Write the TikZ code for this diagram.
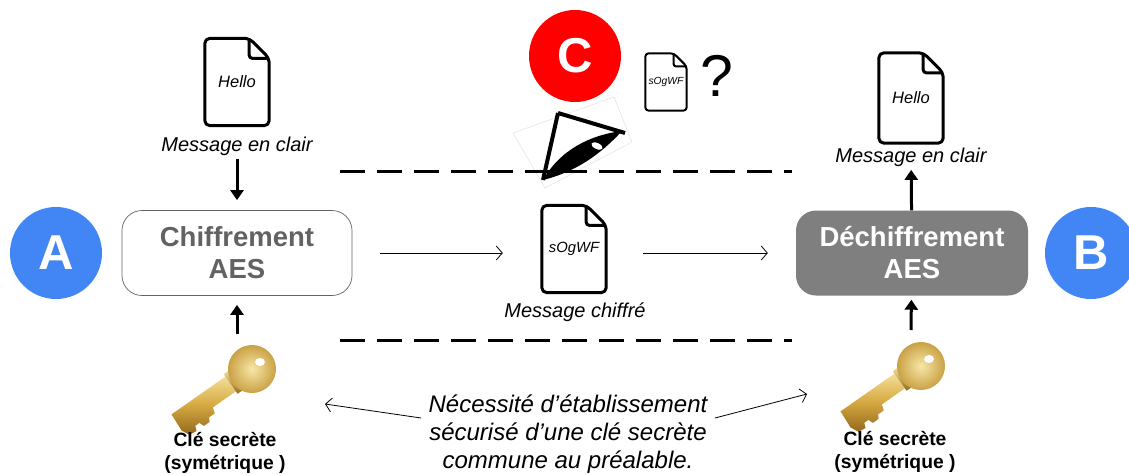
\documentclass[tikz,border=0pt]{standalone}
\usepackage{fontspec}
\setmainfont{Liberation Sans}
\usetikzlibrary{positioning,calc,arrows.meta}
\definecolor{alicebleu}{HTML}{4285F4}
\definecolor{espionrouge}{HTML}{FF0000}
\definecolor{boitegris}{HTML}{7F7F7F}
\definecolor{textegris}{HTML}{626262}
\definecolor{orclair}{HTML}{F7E7A6}
\definecolor{ormoyen}{HTML}{D8AC45}
\definecolor{orfonce}{HTML}{94691A}

% contour of a document icon around a node: #1 node, #2 fold, #3 line width
\newcommand{\fichier}[3]{%
  \draw[line width=#3, rounded corners=#3*1.7, line join=round]
    ([xshift=-#2]#1.north east) -- (#1.north west) -- (#1.south west)
    -- (#1.south east) -- ([yshift=-#2]#1.north east) -- cycle;
  \draw[line width=#3, rounded corners=#3, line join=round]
    ([xshift=-#2]#1.north east) -- ([xshift=-#2,yshift=-#2]#1.north east)
    -- ([yshift=-#2]#1.north east);
}

% golden key, head centred on #1
\newcommand{\cle}[1]{%
  \begin{scope}[shift={#1}, rotate=35]
    \shade[top color=orclair, bottom color=orfonce, middle color=ormoyen]
      (-92,-9) -- (-18,-9) -- (-18,9) -- (-54,9) -- (-56,15) -- (-63,15)
      -- (-65,19) -- (-72,19) -- (-74,14) -- (-79,14) -- (-81,19)
      -- (-89,18) -- (-93,10) -- cycle;
    \shade[top color=orclair, bottom color=orfonce] (-26,-12) rectangle (-17,12);
    \shade[inner color=orclair, outer color=ormoyen!70!orfonce] (0,0) circle (24pt);
  \end{scope}
  \fill[white] ($#1+(8,-7)$) ellipse (5pt and 4pt);
}

\begin{document}
\begin{tikzpicture}[x=1pt, y=-1pt,
  boite/.style={rectangle, rounded corners=20pt, minimum width=230pt,
    minimum height=85pt, align=center,
    font=\fontsize{27.5}{32}\selectfont\bfseries},
  personne/.style={circle, fill=#1, minimum size=92pt, inner sep=0,
    text=white, font=\fontsize{49}{49}\selectfont\bfseries},
  legende/.style={font=\fontsize{20}{24}\selectfont\itshape},
  doc/.style={inner sep=0, minimum width=64pt, minimum height=87pt,
    font=\fontsize{16.5}{17}\selectfont\itshape},
  clelegende/.style={align=center, font=\fontsize{19.3}{23}\selectfont\bfseries},
  fleche/.style={line width=3pt, -{Triangle[length=10pt,width=13pt]}},
  flechefine/.style={line width=0.8pt, -{Straight Barb[length=6pt,width=14pt]}},
  pointille/.style={line width=3pt, dash pattern=on 25pt off 12pt}
]
\useasboundingbox (0,0) rectangle (1129,474);

% Alice, Bob et l'espion
\node[personne=alicebleu] (A) at (56,253) {A};
\node[personne=alicebleu] (B) at (1091,253) {B};
\node[personne=espionrouge] (C) at (575,56) {C};

% chiffrement / dechiffrement
\node[boite, draw=textegris, line width=0.7pt, text=textegris] (chiff) at (237,253) {Chiffrement\\AES};
\node[boite, fill=boitegris, text=white, minimum width=232pt] (dechiff) at (912,253) {Déchiffrement\\AES};

% messages
\node[doc] (docA) at (237,82) {\raisebox{-7pt}{Hello}};
\fichier{docA}{20pt}{3pt}
\node[legende] (clairA) at (237,146) {Message en clair};

\node[doc, minimum height=90pt] (docB) at (911,98) {\raisebox{-4pt}{Hello}};
\fichier{docB}{20pt}{3pt}
\node[legende] (clairB) at (911,157) {Message en clair};

\node[doc, font=\fontsize{14.8}{15}\selectfont\itshape] (docC) at (574,249) {\raisebox{-4pt}{sOgWF}};
\fichier{docC}{20pt}{3pt}
\node[legende] (chiffre) at (575,312) {Message chiffré};

\node[doc, minimum width=41pt, minimum height=57pt,
  font=\fontsize{10.3}{11}\selectfont\itshape] (docEspion) at (666,82) {sOgWF};
\fichier{docEspion}{13pt}{2pt}
\node[font=\fontsize{59}{59}\selectfont] (question) at (717,76) {?};

% oeil de l'espion
\draw[black!12, line width=0.5pt] (513,133) -- (614,97) -- (632,142) -- (545,188) -- cycle;
\draw[line width=4pt, line join=miter] (558,113) -- (625,133) (558,113) -- (543,180);
\fill (543,180) .. controls (560,150) and (590,135) .. (622,131)
  .. controls (600,155) and (575,172) .. (543,180) -- cycle;
\fill[white, rotate around={-25:(597,146)}] (597,146) ellipse (6pt and 3pt);

% canal
\coordinate (haut1) at (340,171);
\coordinate (haut2) at (792,171);
\coordinate (bas1) at (340,340);
\coordinate (bas2) at (792,340);
\draw[pointille] (haut1) -- (haut2);
\draw[pointille] (bas1) -- (bas2);

% cles
\cle{(252,369)}
\cle{(921,366)}
\coordinate (cleA) at (237,334);
\coordinate (cleB) at (911,330);
\node[clelegende] (legA) at (225,453) {Clé secrète\\(symétrique )};
\node[clelegende] (legB) at (895,452) {Clé secrète\\(symétrique )};

\node[legende, align=center, font=\fontsize{24}{28}\selectfont\itshape] (partage) at (568,434)
  {Nécessité d’établissement\\sécurisé d’une clé secrète\\commune au préalable.};
\coordinate (versA) at (325,404);
\coordinate (versB) at (807,394);

% fleches
\draw[fleche, shorten >=10pt] (clairA) -- (chiff);
\draw[fleche, shorten >=9pt] (cleA) -- (chiff);
\draw[fleche] (dechiff) -- (clairB);
\draw[fleche, shorten >=4pt] (cleB) -- (dechiff);
\draw[flechefine, shorten <=28pt, shorten >=39pt] (chiff.east) -- (chiff.east -| docC.west);
\draw[flechefine, shorten <=37pt, shorten >=28pt] (docC.east |- dechiff.west) -- (dechiff.west);
\draw[flechefine] ([xshift=-4pt,yshift=16pt]partage.west) -- (versA);
\draw[flechefine] ([xshift=4pt,yshift=16pt]partage.east) -- (versB);
\end{tikzpicture}
\end{document}
